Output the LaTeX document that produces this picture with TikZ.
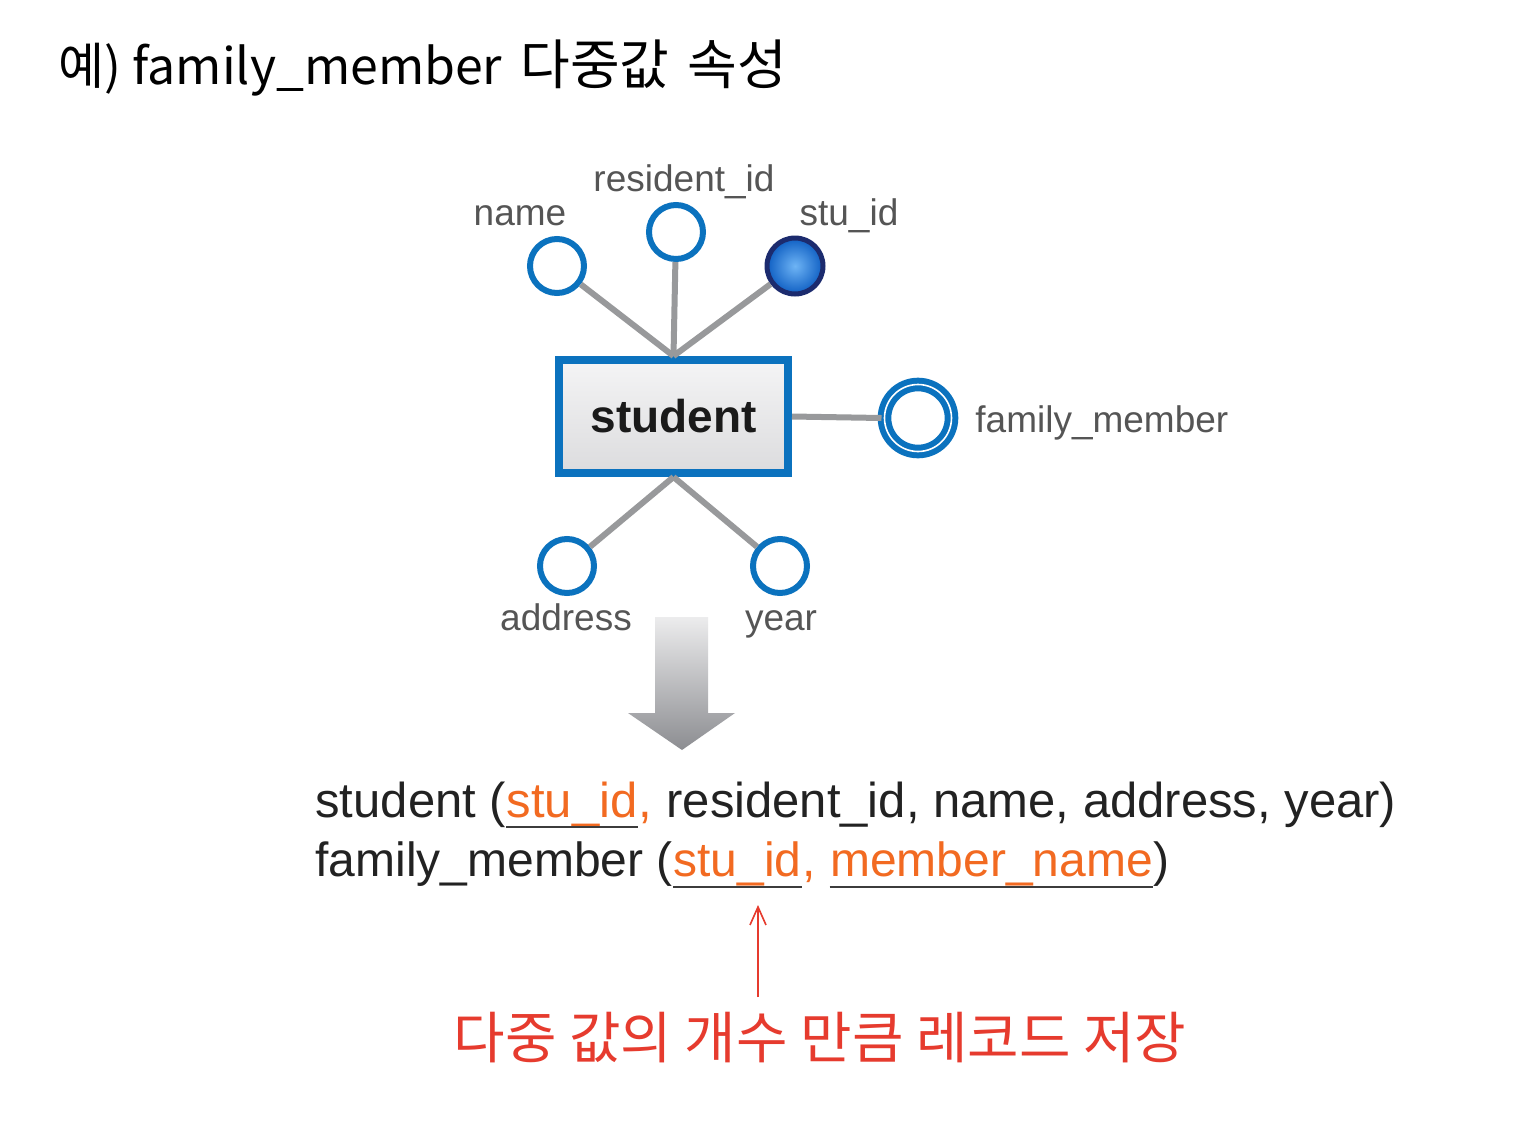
\documentclass[tikz,border=0pt]{standalone}
\usepackage{fontspec}
\setmainfont{Liberation Sans}
\newfontfamily\kr{Noto Sans CJK KR}
\usetikzlibrary{arrows.meta,calc}
\definecolor{erblue}{HTML}{0B72BE}
\definecolor{ergray}{HTML}{98999B}
\definecolor{lblgray}{HTML}{555555}
\definecolor{navy}{HTML}{1C2B6E}
\definecolor{keyorange}{HTML}{F26A21}
\definecolor{notered}{HTML}{E63B2E}
\definecolor{reltext}{HTML}{222222}
\tikzset{
  attr/.style={circle, draw=erblue, line width=3pt, minimum size=27pt, inner sep=0pt, fill=white},
  keyattr/.style={circle, draw=navy, line width=2.5pt, minimum size=28pt, inner sep=0pt, inner color={rgb,255:red,110;green,180;blue,245}, outer color={rgb,255:red,15;green,95;blue,195}},
  multiattr/.style={circle, draw=erblue, double=white, double distance=0.8pt, line width=3pt, minimum size=33.5pt, inner sep=0pt},
  entity/.style={draw=erblue, line width=4pt, minimum width=114.5pt, minimum height=56.5pt, top color={rgb,255:red,244;green,244;blue,245}, bottom color={rgb,255:red,220;green,220;blue,222}, font=\bfseries\fontsize{23pt}{23pt}\selectfont, text={rgb,255:red,26;green,26;blue,26}},
  conn/.style={draw=ergray, line width=3pt},
  lbl/.style={font=\fontsize{18.5pt}{18.5pt}\selectfont, text=lblgray, inner sep=0pt},
  rel/.style={font=\fontsize{24.5pt}{24.5pt}\selectfont, text=reltext, inner sep=0pt, anchor=base west},
  relkey/.style={rel, text=keyorange},
  reltwo/.style={rel, font=\fontsize{24pt}{24pt}\selectfont},
  relkeytwo/.style={reltwo, text=keyorange},
  uline/.style={draw={rgb,255:red,60;green,60;blue,60}, line width=1pt},
  redarrow/.style={draw=notered, line width=0.8pt, -{Straight Barb[length=9pt,width=8pt]}}
}
\begin{document}
\begin{tikzpicture}[x=0.5pt,y=-0.5pt]
\useasboundingbox (0,0) rectangle (1528,1136);
\fill[white] (0,0) rectangle (1528,1136);

% title
\node[anchor=base west, inner sep=0pt, font=\kr\fontsize{25pt}{25pt}\selectfont] (title) at (58,84)
  {예) family\_member\hspace{9pt}{\fontsize{27pt}{27pt}\selectfont 다중값\hspace{9pt}속성}};

% entity
\node[entity] (student) at (673.5,416.5) {student};

% attributes
\node[attr] (name) at (557,266) {};
\node[attr] (resid) at (676,232) {};
\node[keyattr] (stuid) at (795,266) {};
\node[attr] (address) at (567,566) {};
\node[attr] (year) at (780,566) {};
\node[multiattr] (fm) at (918,418) {};

% connectors
\draw[conn] (name) -- (student.north);
\draw[conn] (resid) -- (student.north);
\draw[conn] (stuid) -- (student.north);
\draw[conn] (address) -- (student.south);
\draw[conn] (year) -- (student.south);
\draw[conn] (student.east) -- (fm.west);

% labels
\node[lbl, anchor=base] (lname) at (520,225) {name};
\node[lbl, anchor=base] (lresid) at (684,191) {resident\_id};
\node[lbl, anchor=base] (lstuid) at (849,225) {stu\_id};
\node[lbl, anchor=base] (laddr) at (566,630) {address};
\node[lbl, anchor=base] (lyear) at (781,630) {year};
\node[lbl, anchor=base west] (lfm) at (975,432) {family\_member};

% big gray arrow
\shade[top color={rgb,255:red,236;green,236;blue,237}, bottom color={rgb,255:red,140;green,141;blue,145}]
  (655,617) -- (708,617) -- (708,713) -- (735,713) -- (682,750) -- (628,713) -- (655,713) -- cycle;

% relation line 1
\node[rel] (r1a) at (315,817) {student (};
\node[relkey] (r1k) at (r1a.base east) {stu\_id};
\node[relkey] (r1c) at (r1k.base east) {,};
\node[rel] (r1b) at (r1c.base east) {\ resident\_id, name, address, year)};
\draw[uline] ($(r1k.base west)+(0,10)$) -- ($(r1k.base east)+(0,10)$);

% relation line 2
\node[reltwo] (r2a) at (315,876) {family\_member (};
\node[relkeytwo] (r2k) at (r2a.base east) {stu\_id};
\node[relkeytwo] (r2c) at (r2k.base east) {,};
\node[relkeytwo, xshift=6.7pt] (r2m) at (r2c.base east) {member\_name};
\node[reltwo] (r2e) at (r2m.base east) {)};
\draw[uline] ($(r2k.base west)+(0,11)$) -- ($(r2k.base east)+(0,11)$);
\draw[uline] ($(r2m.base west)+(0,11)$) -- ($(r2m.base east)+(0,11)$);

% red note
\node[anchor=base, inner sep=0pt, font=\kr\fontsize{28pt}{28pt}\selectfont, text=notered] (note) at (820,1058) {다중 값의 개수 만큼 레코드 저장};
\coordinate (tail) at (758,997);
\coordinate (tip) at (758,905);
\draw[redarrow] (tail) -- (tip);
\end{tikzpicture}
\end{document}
